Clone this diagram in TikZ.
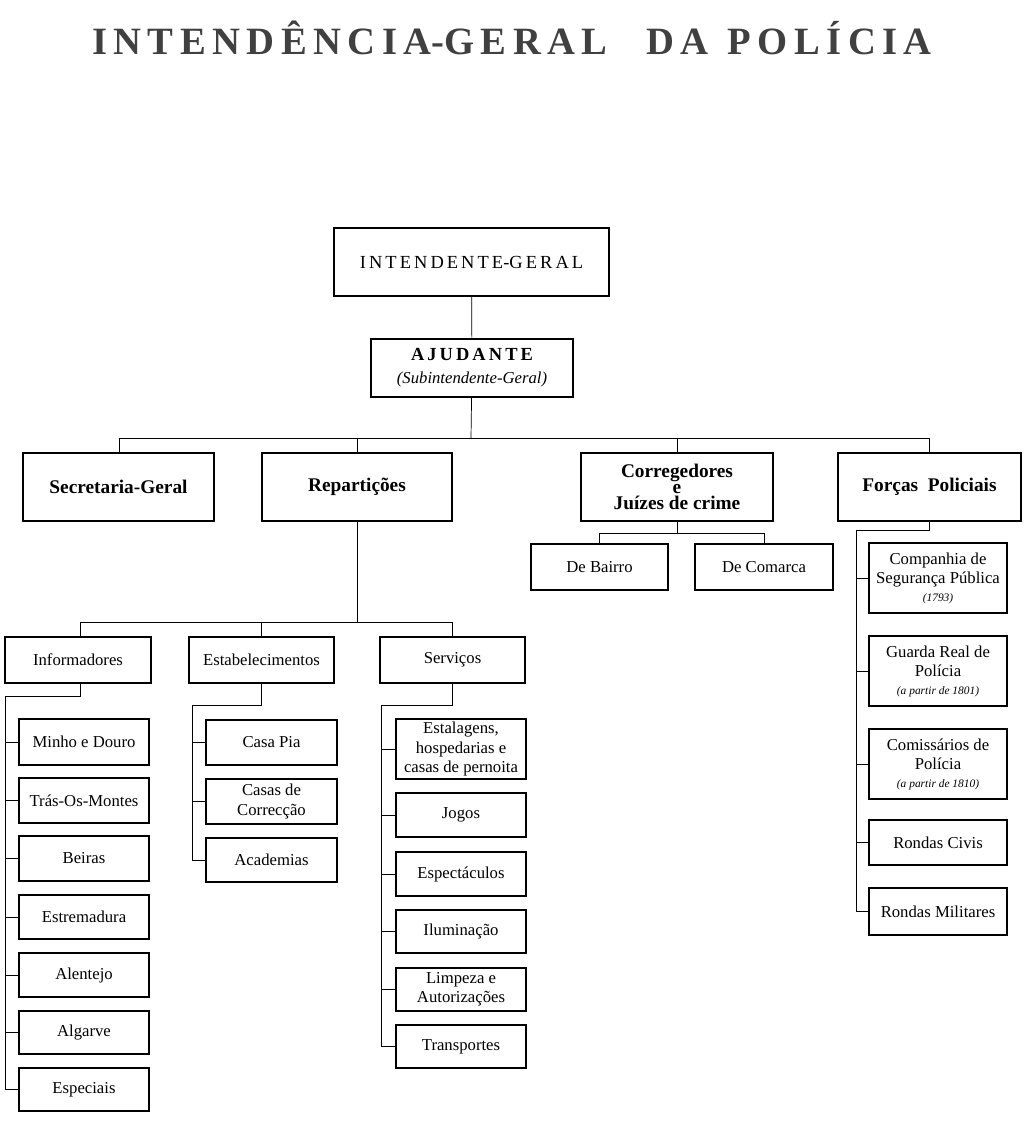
\documentclass[tikz,border=0pt]{standalone}
\usepackage{fontspec}
\setmainfont{Liberation Serif}
\usetikzlibrary{positioning,calc}

% one unit = one pixel of the chart
\newcommand{\bx}[6]{%
  \node[box, minimum width={(#4-#2)*0.02cm}, minimum height={(#5-#3)*0.02cm}]
    (#1) at ({(#2+#4)/2},{(#3+#5)/2}) {#6};}
\newcommand{\hd}{\fontsize{11}{13}\selectfont\bfseries}
\newcommand{\nt}{\fontsize{6.5}{8}\selectfont\itshape}

\begin{document}
\begin{tikzpicture}[
    x=0.02cm, y=-0.02cm,
    every node/.style={font=\fontsize{9.5}{11}\selectfont},
    box/.style={draw, thick, inner sep=0pt, align=center},
    link/.style={thin}
]
\useasboundingbox (0,0) rectangle (1030,1136);

% Title
\node[font=\fontsize{22}{26}\selectfont\bfseries, text=black!75] (title) at (512,38)
    {I\,N\,T\,E\,N\,D\,Ê\,N\,C\,I\,A-G\,E\,R\,A\,L\quad D\,A\ \ P\,O\,L\,Í\,C\,I\,A};

% Top of the chart
\bx{int}{334}{228}{609}{296}{\fontsize{10.5}{12}\selectfont I\,N\,T\,E\,N\,D\,E\,N\,T\,E-G\,E\,R\,A\,L}
\bx{aju}{371}{339}{573}{397}{{\fontsize{10.5}{12}\selectfont\bfseries A\,J\,U\,D\,A\,N\,T\,E}\\[2pt]\textit{(Subintendente-Geral)}}
\draw[link] (int) -- (aju);

% First level
\bx{sec}{23}{453}{214}{521}{\hd Secretaria-Geral}
\bx{rep}{262}{453}{452}{521}{\hd Repartições}
\bx{cor}{581}{453}{773}{521}{\hd Corregedores\\[-2pt]\hd e\\[-2pt]\hd Juízes de crime}
\bx{for}{838}{453}{1021}{521}{\hd Forças\ \ Policiais}
\coordinate (busA) at (471,438);
\draw[link] (aju) -- (busA);
\draw[link] (119,453) -- (119,438) -- (929,438) -- (929,453);
\draw[link] (rep.north) -- (rep.north |- busA);
\draw[link] (cor.north) -- (cor.north |- busA);

% Corregedores
\bx{bai}{531}{544}{668}{590}{De Bairro}
\bx{com}{695}{544}{833}{590}{De Comarca}
\draw[link] (cor.south) -- (677,533);
\draw[link] (599,544) -- (599,533) -- (764,533) -- (764,544);

% Reparticoes
\bx{inf}{5}{637}{151}{683}{Informadores}
\bx{est}{189}{637}{334}{683}{Estabelecimentos}
\bx{ser}{380}{637}{525}{683}{Serviços}
\coordinate (busR) at (357,622);
\draw[link] (rep.south) -- (busR);
\draw[link] (80,637) -- (80,622) -- (452,622) -- (452,637);
\draw[link] (261,637) -- (261,622);

% Informadores
\bx{min}{19}{719}{149}{765}{Minho e Douro}
\bx{tra}{19}{778}{149}{823}{Trás-Os-Montes}
\bx{bei}{19}{836}{149}{881}{Beiras}
\bx{etr}{19}{895}{149}{939}{Estremadura}
\bx{ale}{19}{953}{149}{997}{Alentejo}
\bx{alg}{19}{1011}{149}{1054}{Algarve}
\bx{esp}{19}{1068}{149}{1111}{Especiais}
\coordinate (spI) at (5,696);
\draw[link] (80,683) -- (80,696) -- (spI) -- (spI |- esp.west);
\foreach \n in {min,tra,bei,etr,ale,alg,esp}
  \draw[link] (spI |- \n.west) -- (\n.west);

% Estabelecimentos
\bx{cas}{206}{720}{337}{765}{Casa Pia}
\bx{cor2}{206}{779}{337}{824}{Casas de\\Correcção}
\bx{aca}{206}{838}{337}{882}{Academias}
\coordinate (spE) at (192,705);
\draw[link] (261,683) -- (261,705) -- (spE) -- (spE |- aca.west);
\foreach \n in {cas,cor2,aca}
  \draw[link] (spE |- \n.west) -- (\n.west);

% Servicos
\bx{etg}{396}{719}{526}{779}{Estalagens,\\hospedarias e\\casas de pernoita}
\bx{jog}{396}{793}{526}{837}{Jogos}
\bx{spc}{396}{852}{526}{896}{Espectáculos}
\bx{ilu}{396}{910}{526}{953}{Iluminação}
\bx{lim}{396}{968}{526}{1011}{Limpeza e\\Autorizações}
\bx{trn}{396}{1025}{526}{1068}{Transportes}
\coordinate (spS) at (381,705);
\draw[link] (452,683) -- (452,705) -- (spS) -- (spS |- trn.west);
\foreach \n in {etg,jog,spc,ilu,lim,trn}
  \draw[link] (spS |- \n.west) -- (\n.west);

% Forcas Policiais
\bx{cia}{869}{543}{1007}{613}{Companhia de\\Segurança Pública\\[-1pt]{\nt (1793)}}
\bx{gua}{869}{636}{1007}{706}{Guarda Real de\\Polícia\\[-1pt]{\nt (a partir de 1801)}}
\bx{cms}{869}{729}{1007}{799}{Comissários de\\Polícia\\[-1pt]{\nt (a partir de 1810)}}
\bx{rci}{869}{820}{1007}{865}{Rondas Civis}
\bx{rmi}{869}{888}{1007}{935}{Rondas Militares}
\coordinate (spF) at (856,530);
\draw[link] (929,521) -- (929,530) -- (spF) -- (spF |- rmi.west);
\foreach \n in {cia,gua,cms,rci,rmi}
  \draw[link] (spF |- \n.west) -- (\n.west);

\end{tikzpicture}
\end{document}
